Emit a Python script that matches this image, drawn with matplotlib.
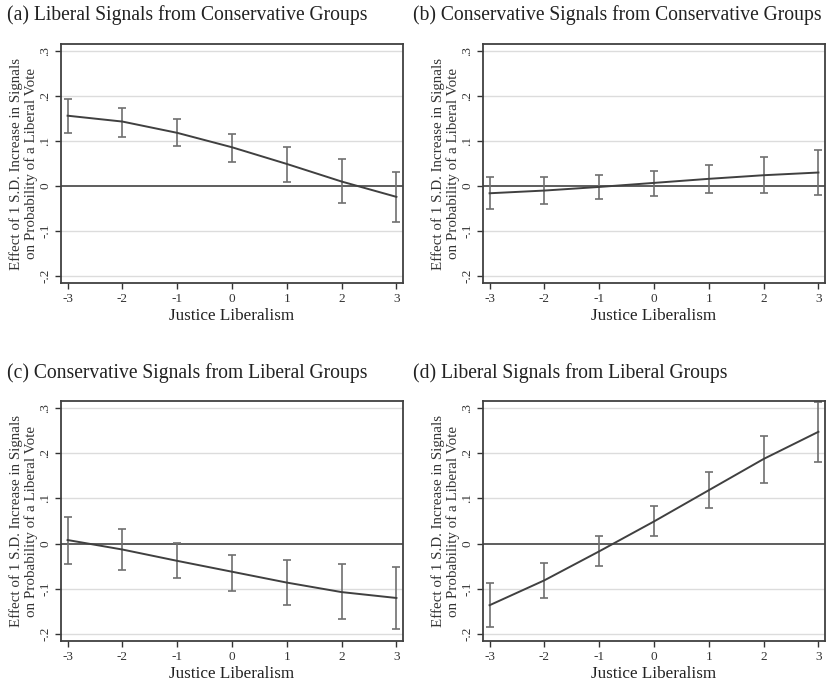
import matplotlib
matplotlib.use("Agg")
import matplotlib.pyplot as plt
import numpy as np

plt.rcParams['font.family'] = ['Liberation Serif', 'DejaVu Serif']

x = [-3, -2, -1, 0, 1, 2, 3]

titles = ["(a) Liberal Signals from Conservative Groups",
          "(b) Conservative Signals from Conservative Groups",
          "(c) Conservative Signals from Liberal Groups",
          "(d) Liberal Signals from Liberal Groups"]

est_a = [0.156, 0.143, 0.118, 0.086, 0.049, 0.010, -0.024]
lo_a = [0.118, 0.109, 0.089, 0.054, 0.010, -0.038, -0.079]
hi_a = [0.193, 0.174, 0.148, 0.116, 0.087, 0.059, 0.031]

est_b = [-0.016, -0.010, -0.002, 0.007, 0.016, 0.024, 0.030]
lo_b = [-0.052, -0.040, -0.028, -0.021, -0.016, -0.016, -0.019]
hi_b = [0.020, 0.020, 0.024, 0.034, 0.047, 0.064, 0.079]

est_c = [0.008, -0.013, -0.038, -0.062, -0.086, -0.107, -0.120]
lo_c = [-0.044, -0.058, -0.075, -0.104, -0.136, -0.166, -0.189]
hi_c = [0.059, 0.032, 0.002, -0.024, -0.036, -0.046, -0.051]

est_d = [-0.136, -0.081, -0.017, 0.049, 0.118, 0.187, 0.247]
lo_d = [-0.185, -0.119, -0.050, 0.016, 0.078, 0.133, 0.180]
hi_d = [-0.087, -0.042, 0.016, 0.084, 0.159, 0.237, 0.313]

yticks = [-0.2, -0.1, 0, 0.1, 0.2, 0.3]
ytick_labels = ["-.2", "-.1", "0", ".1", ".2", ".3"]
xtick_labels = ["-3", "-2", "-1", "0", "1", "2", "3"]

W, H = 827, 682
fig = plt.figure(figsize=(W / 100, H / 100), dpi=100)

# axes rectangles in pixels: left, top, right, bottom
rects = [(61, 44, 403, 283), (483, 44, 825, 283),
         (61, 401, 403, 641), (483, 401, 825, 641)]
title_pos = [(7, 15), (413, 15), (7, 373), (413, 373)]

data = [(est_a, lo_a, hi_a), (est_b, lo_b, hi_b),
        (est_c, lo_c, hi_c), (est_d, lo_d, hi_d)]

for i, (rect, (est, lo, hi)) in enumerate(zip(rects, data)):
    l, t, r, b = rect
    ax = fig.add_axes([l / W, 1 - b / H, (r - l) / W, (b - t) / H])
    ax.set_xlim(-3.12, 3.12)
    ax.set_ylim(-0.215, 0.315)
    for yv in [-0.2, -0.1, 0.1, 0.2, 0.3]:
        ax.axhline(yv, color='#dcdcdc', lw=1.0, zorder=0)
    ax.axhline(0, color='#505050', lw=1.3, zorder=1)
    est_arr = np.array(est)
    yerr = np.vstack([est_arr - np.array(lo), np.array(hi) - est_arr])
    ax.errorbar(x, est, yerr=yerr, fmt='none', ecolor='#707070',
                elinewidth=1.2, capsize=3, capthick=1.2, zorder=2)
    ax.plot(x, est, color='#404040', lw=1.4, zorder=3)
    ax.set_xticks(x)
    ax.set_xticklabels(xtick_labels, fontsize=9.5)
    ax.set_yticks(yticks)
    ax.set_yticklabels(ytick_labels, fontsize=9.5, rotation=90, va='center')
    ax.tick_params(direction='out', length=4, width=1, colors='#333333', pad=3)
    for s in ax.spines.values():
        s.set_color('#404040')
        s.set_linewidth(1.3)
    ax.set_xlabel("Justice Liberalism", fontsize=12.3, labelpad=2, color='#222222')
    ax.set_ylabel("Effect of 1 S.D. Increase in Signals\non Probability of a Liberal Vote",
                  fontsize=10.8, labelpad=1, color='#333333', linespacing=1.12)
    tx, ty = title_pos[i]
    fig.text(tx / W, 1 - ty / H, titles[i], fontsize=14.1, ha='left', va='center',
             color='#222222')

fig.savefig("out.png", dpi=100, facecolor='white')
